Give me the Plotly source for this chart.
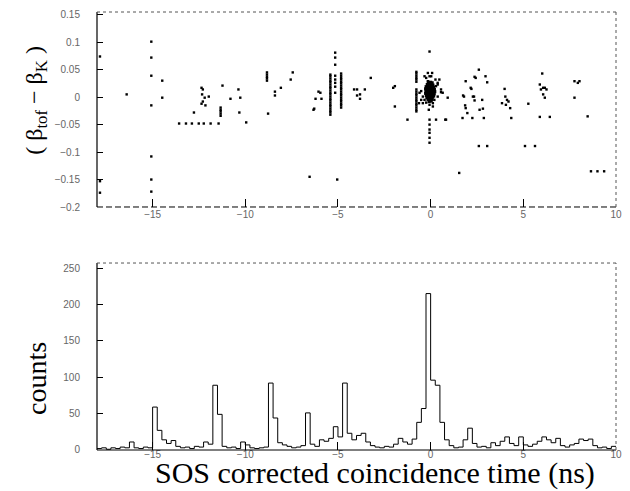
import numpy as np
import plotly.graph_objects as go

# ---- upper panel: beta difference vs corrected coincidence time ----
# dense core of true coincidences near t = 0
core_dt = [-0.12, 0.0, 0.08,
           -0.18, -0.08, 0.03, 0.12,
           -0.24, -0.14, -0.04, 0.06, 0.16,
           -0.27, -0.19, -0.09, 0.01, 0.10, 0.20,
           -0.25, -0.15, -0.05, 0.05, 0.15, 0.22,
           -0.27, -0.18, -0.08, 0.02, 0.11, 0.19,
           -0.23, -0.13, -0.03, 0.07, 0.16,
           -0.20, -0.10, 0.00, 0.10,
           -0.14, -0.04, 0.06,
           -0.08, 0.03]
core_dbeta = [0.027, 0.027, 0.026,
              0.023, 0.024, 0.023, 0.022,
              0.019, 0.020, 0.019, 0.020, 0.018,
              0.015, 0.016, 0.015, 0.016, 0.015, 0.014,
              0.011, 0.012, 0.011, 0.012, 0.011, 0.010,
              0.007, 0.008, 0.007, 0.008, 0.007, 0.006,
              0.003, 0.004, 0.003, 0.004, 0.002,
              -0.001, 0.000, -0.001, 0.000,
              -0.004, -0.005, -0.004,
              -0.008, -0.007]

# remaining events (accidentals and tails)
other_dt = [-17.84, -17.84, -17.84, -16.40,
            -15.07, -15.07, -15.07, -15.07, -15.07, -15.07, -15.07,
            -14.48, -14.48,
            -13.57, -13.20, -12.88, -12.51, -12.24, -11.87, -11.44,
            -12.77,
            -12.36, -12.29, -12.33, -12.19, -12.29, -12.36, -12.15, -11.97,
            -11.33, -11.33, -11.33, -11.33, -11.33,
            -11.23, -10.80, -10.37, -10.27, -10.32, -9.95,
            -8.83, -8.83, -8.83, -8.83, -8.83,
            -8.77, -8.40, -8.40, -8.08, -7.55, -7.44,
            -6.32, -6.21, -6.05, -5.95, -5.89, -6.28, -6.53,
            -5.41, -5.41, -5.41, -5.41, -5.41, -5.41, -5.41, -5.41, -5.41, -5.41, -5.41,
            -5.41, -5.41, -5.41, -5.41, -5.41, -5.41, -5.41, -5.41, -5.41, -5.41,
            -5.15, -5.15, -5.15, -5.15, -5.15, -5.15, -5.15, -5.15,
            -4.83, -4.83, -4.83, -4.83, -4.83, -4.83, -4.83, -4.83, -4.83,
            -4.83, -4.83, -4.83, -4.83, -4.83, -4.83, -4.83, -4.83, -4.83,
            -5.04,
            -4.13, -3.97, -3.81, -3.97, -3.81, -3.55, -3.23,
            -2.02, -1.93, -1.93, -1.25,
            -0.77, -0.77, -0.77, -0.77, -0.77, -0.77, -0.77, -0.77, -0.77,
            -0.77, -0.77, -0.77, -0.77, -0.77, -0.77, -0.77, -0.77, -0.77,
            -0.06, -0.06, -0.06, -0.06, -0.06, -0.06, -0.06,
            -0.60, -0.51, -0.42, 0.12, 0.20, 0.29, 0.38, 0.47, 0.56, 0.65,
            0.83, 0.92, 0.29, 0.08, -0.06, -0.15, -0.24, -0.33, -0.15, 0.03,
            -0.63, -0.51, -0.42, -0.33, -0.24, -0.06, -0.10, 0.12, 0.38, 0.56,
            0.38, 0.26, 0.79,
            1.89, 2.20, 2.34, 2.60, 2.78, 1.80, 1.89, 1.98, 2.43, 2.96,
            3.05, 1.72, 2.25, 2.87, 2.60, 3.05, 1.75, 1.86, 2.37, 2.16,
            2.28, 2.37, 2.64, 2.82,
            3.85, 3.99, 4.03, 4.12, 4.20, 4.29, 4.35, 4.06,
            5.09, 5.63, 5.27,
            6.02, 5.89, 6.07, 5.95, 6.16, 6.25, 6.07, 6.16, 5.89, 6.43,
            7.76, 7.94, 8.03, 7.76, 8.47,
            1.54, 8.65, 9.00, 9.36]
other_dbeta = [0.074, -0.153, -0.174, 0.005,
               0.101, 0.072, 0.039, -0.015, -0.108, -0.150, -0.172,
               0.030, -0.001,
               -0.048, -0.048, -0.048, -0.048, -0.048, -0.048, -0.048,
               -0.028,
               0.017, 0.014, 0.005, -0.001, -0.008, -0.012, -0.015, 0.001,
               -0.019, -0.023, -0.026, -0.030, -0.034,
               0.021, -0.003, 0.014, -0.001, -0.028, -0.046,
               0.045, 0.041, 0.037, 0.034, 0.030,
               -0.030, 0.010, 0.003, 0.017, 0.032, 0.045,
               -0.023, -0.003, 0.010, 0.008, -0.003, -0.021, -0.145,
               0.041, 0.038, 0.034, 0.030, 0.027, 0.023, 0.019, 0.016, 0.012, 0.008, 0.005,
               0.001, -0.003, -0.006, -0.010, -0.014, -0.017, -0.021, -0.025, -0.028, -0.032,
               0.081, 0.072, 0.059, 0.039, 0.032, 0.026, 0.019, 0.008,
               0.043, 0.039, 0.035, 0.032, 0.028, 0.025, 0.021, 0.017, 0.014,
               0.010, 0.006, 0.003, -0.001, -0.005, -0.008, -0.012, -0.015, -0.019,
               -0.150,
               0.014, 0.014, 0.005, 0.003, -0.003, 0.014, 0.035,
               0.017, 0.020, -0.017, -0.041,
               0.046, 0.043, 0.039, 0.035, 0.032, 0.028, 0.014, 0.010, 0.006,
               0.003, -0.001, -0.005, -0.008, -0.012, -0.015, -0.019, -0.023, -0.026,
               0.083, -0.041, -0.050, -0.059, -0.065, -0.074, -0.083,
               0.008, -0.005, -0.011, -0.017, -0.005, 0.020, 0.026, 0.032, 0.014, 0.008,
               -0.041, -0.001, -0.041, 0.044, 0.038, 0.029, 0.035, 0.038, 0.044, 0.038,
               -0.011, 0.011, 0.001, -0.005, -0.010, -0.014, -0.023, -0.011, 0.001, 0.009,
               0.023, 0.032, -0.041,
               0.029, 0.015, 0.001, 0.050, -0.005, 0.001, -0.020, -0.029, 0.035, 0.038,
               0.027, -0.038, -0.038, -0.038, -0.089, -0.089, 0.003, -0.015, 0.037, 0.017,
               0.001, -0.006, -0.023, -0.021,
               -0.011, 0.015, 0.001, -0.005, -0.008, -0.020, -0.038, -0.014,
               -0.089, -0.089, -0.012,
               0.043, 0.023, 0.017, 0.014, 0.017, 0.014, 0.005, -0.001, -0.036, -0.036,
               0.029, 0.026, 0.029, -0.001, -0.035,
               -0.138, -0.135, -0.135, -0.135]

# ---- lower panel: coincidence-time histogram ----
t_start = -18.0
bin_width = 0.25
counts = [2, 3, 1, 3, 2, 4, 3, 11,        # -18.00 .. -16.25
          3, 2, 4, 3, 59, 27, 14, 9,      # -16.00 .. -14.25
          13, 5, 3, 4, 2, 5, 4, 11,       # -14.00 .. -12.25
          8, 89, 49, 5, 3, 4, 2, 11,      # -12.00 .. -10.25
          7, 3, 2, 3, 4, 92, 44, 10,      # -10.00 .. -8.25
          7, 5, 3, 4, 6, 51, 8, 5,        # -8.00 .. -6.25
          14, 12, 16, 32, 18, 92, 23, 14, # -6.00 .. -4.25
          20, 23, 11, 6, 4, 3, 5, 4,      # -4.00 .. -2.25
          8, 16, 11, 8, 15, 38, 57, 215,  # -2.00 .. -0.25
          96, 89, 38, 14, 6, 3, 4, 14,    # 0.00 .. 1.75
          30, 9, 4, 5, 3, 10, 6, 12,      # 2.00 .. 3.75
          18, 9, 6, 18, 7, 5, 8, 12,      # 4.00 .. 5.75
          18, 14, 10, 16, 6, 4, 7, 9,     # 6.00 .. 7.75
          15, 13, 15, 6, 3, 4, 2, 5]      # 8.00 .. 9.75

t_ticks = [-15, -10, -5, 0, 5, 10]
t_ticktext = ["\u221215", "\u221210", "\u22125", "0", "5", "10"]
beta_ticks = [-0.2, -0.15, -0.1, -0.05, 0, 0.05, 0.1, 0.15]
beta_ticktext = ["\u22120.2", "\u22120.15", "\u22120.1", "\u22120.05", "0", "0.05", "0.1", "0.15"]
count_ticks = [0, 50, 100, 150, 200, 250]

edges = t_start + bin_width * np.arange(len(counts) + 1)
step_y = counts + [counts[-1]]

top_dom = [0.5548, 1.0]
bot_dom = [0.0, 0.4269]

fig = go.Figure()
fig.add_trace(go.Scatter(x=other_dt, y=other_dbeta, mode="markers",
                         marker=dict(symbol="square", size=2.4, color="black"),
                         xaxis="x", yaxis="y", showlegend=False))
fig.add_trace(go.Scatter(x=core_dt, y=core_dbeta, mode="markers",
                         marker=dict(symbol="square", size=3.2, color="black"),
                         xaxis="x", yaxis="y", showlegend=False))
fig.add_trace(go.Scatter(x=edges, y=step_y, mode="lines", line_shape="hv",
                         line=dict(color="black", width=1),
                         xaxis="x2", yaxis="y2", showlegend=False))

tick_font = dict(family="Liberation Sans, Arial, sans-serif", size=10, color="#666")
common_x = dict(range=[-18, 10], tickvals=t_ticks, ticktext=t_ticktext, ticks="inside",
                ticklen=8, tickcolor="black", showgrid=False, zeroline=False,
                showline=False, tickfont=tick_font)

fig.update_layout(
    width=630, height=491,
    margin=dict(l=97, r=8, t=12, b=41),
    paper_bgcolor="white", plot_bgcolor="white",
    xaxis=dict(domain=[0, 1], anchor="y", **common_x),
    yaxis=dict(domain=top_dom, anchor="x", range=[-0.2, 0.155], tickvals=beta_ticks,
               ticktext=beta_ticktext, ticks="inside", ticklen=6, tickcolor="black",
               showgrid=False, zeroline=False, showline=False, tickfont=tick_font,
               ticklabelstandoff=16),
    xaxis2=dict(domain=[0, 1], anchor="y2", ticklabelstandoff=-3, **common_x),
    yaxis2=dict(domain=bot_dom, anchor="x2", range=[0, 257], tickvals=count_ticks,
                ticks="inside", ticklen=6, tickcolor="black", showgrid=False,
                zeroline=False, showline=False, tickfont=tick_font,
                ticklabelstandoff=16),
)

# panel frames: solid left/bottom, dotted top/right
shapes = []
for lo, hi, bottom_dash in [(top_dom[0], top_dom[1], "6px,3px"), (bot_dom[0], bot_dom[1], "solid")]:
    shapes.append(dict(type="line", xref="paper", yref="paper", x0=0, x1=0, y0=lo, y1=hi,
                       line=dict(color="black", width=1.2)))
    shapes.append(dict(type="line", xref="paper", yref="paper", x0=0, x1=1, y0=lo, y1=lo,
                       line=dict(color="black", width=1, dash=bottom_dash)))
    shapes.append(dict(type="line", xref="paper", yref="paper", x0=0, x1=1, y0=hi, y1=hi,
                       line=dict(color="#555", width=1, dash="dot")))
    shapes.append(dict(type="line", xref="paper", yref="paper", x0=1, x1=1, y0=lo, y1=hi,
                       line=dict(color="#555", width=1, dash="dot")))
fig.update_layout(shapes=shapes)

serif = "Liberation Serif"
fig.add_annotation(text="( \u03b2<sub>tof</sub> \u2212 \u03b2<sub>K</sub> )", xref="paper", yref="paper",
                   x=-0.118, y=0.799, textangle=-90, showarrow=False,
                   xanchor="center", yanchor="middle",
                   font=dict(family=serif, size=24, color="black"))
fig.add_annotation(text="counts", xref="paper", yref="paper",
                   x=-0.118, y=0.164, textangle=-90, showarrow=False,
                   xanchor="center", yanchor="middle",
                   font=dict(family=serif, size=28, color="black"))
fig.add_annotation(text="SOS corrected coincidence time (ns)", xref="paper", yref="paper",
                   x=0.535, y=-0.052, showarrow=False, xanchor="center", yanchor="middle",
                   font=dict(family=serif, size=30, color="black"))

fig.write_html("out.html")
